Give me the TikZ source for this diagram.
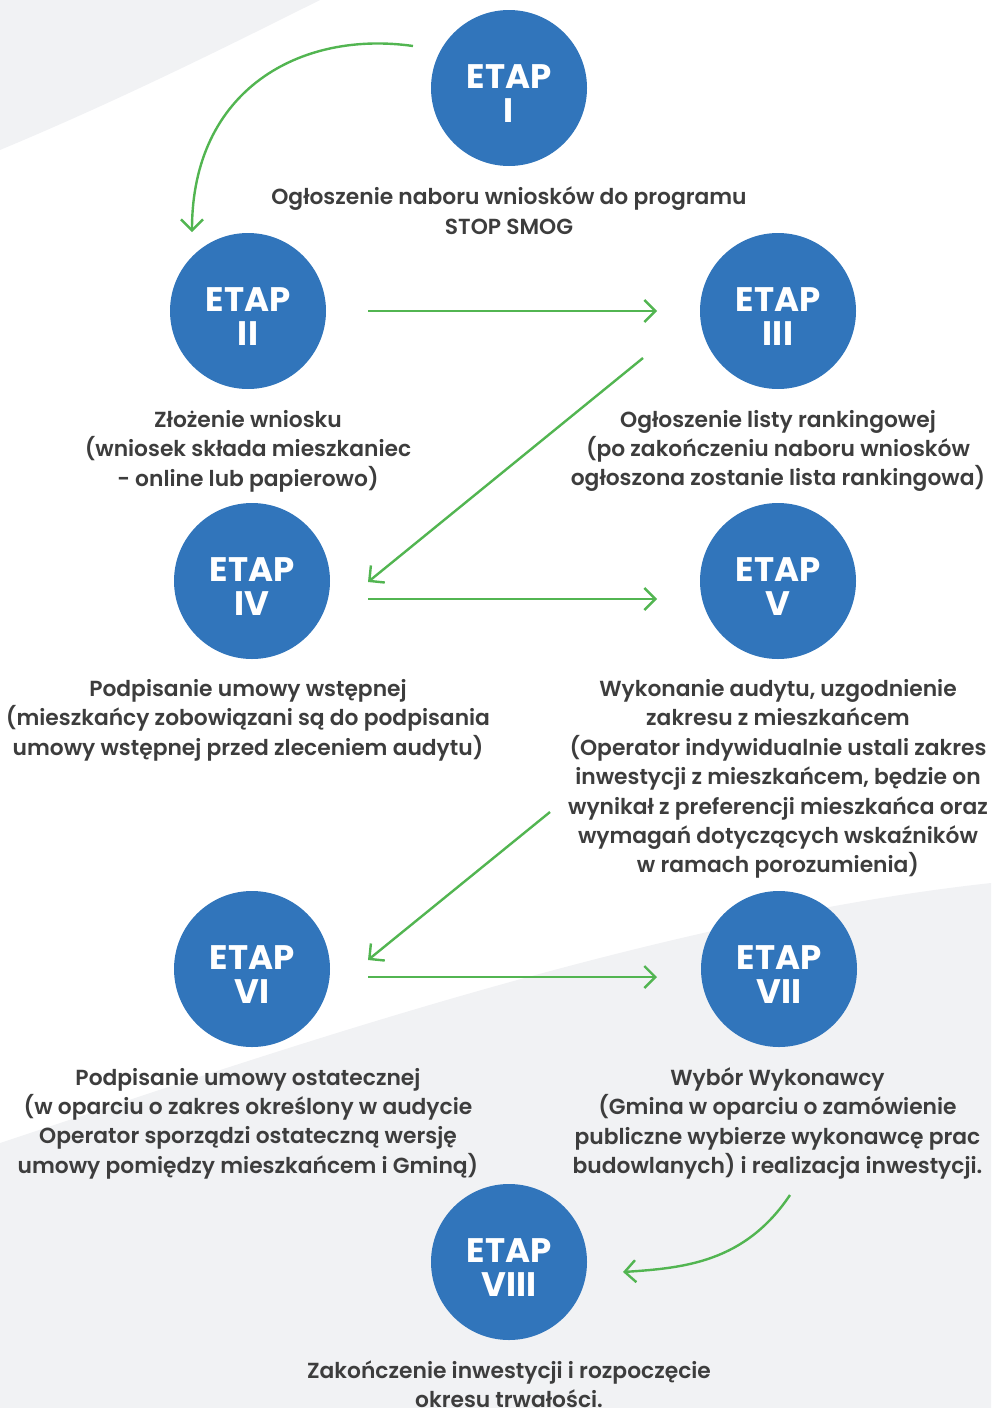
\documentclass[tikz,border=0pt]{standalone}
\usepackage{fontspec}
\usetikzlibrary{arrows.meta}
\newfontfamily\labfont{Poppins SemiBold}
\newfontfamily\etapfont{Poppins Bold}
\definecolor{bggray}{HTML}{F1F2F4}
\definecolor{etapblue}{HTML}{3175BB}
\definecolor{arrgreen}{HTML}{52B551}
\definecolor{txtdark}{HTML}{3D3D3D}
\tikzset{
  stagecircle/.style={circle, fill=etapblue, minimum size=156pt, inner sep=0pt},
  stagetext/.style={text=white, align=center, inner sep=0pt, font=\etapfont\fontsize{34}{34}\selectfont},
  desc/.style={text=txtdark, align=center, inner sep=0pt, font=\labfont\fontsize{21.8}{29.4}\selectfont},
  flow/.style={draw=arrgreen, line width=2.4pt, -{Straight Barb[length=11pt,width=22pt]}},
}
\begin{document}
\begin{tikzpicture}[x=1pt,y=-1pt]
\useasboundingbox (0,0) rectangle (991,1408);
% background shapes
\fill[bggray] (0,0) -- (320,0) .. controls (230,45) and (120,100) .. (0,150) -- cycle;
\fill[bggray] (0,1143) .. controls (250,1060) and (650,920) .. (991,883) -- (991,1408) -- (0,1408) -- cycle;

% stages
\node[stagecircle] (c1) at (509,88) {};
\node[stagecircle] (c2) at (248,311) {};
\node[stagecircle] (c3) at (778,311) {};
\node[stagecircle] (c4) at (252,581) {};
\node[stagecircle] (c5) at (778,581) {};
\node[stagecircle] (c6) at (252,969) {};
\node[stagecircle] (c7) at (779,969) {};
\node[stagecircle] (c8) at (509,1262) {};

\node[stagetext] (t1) at ([yshift=-6pt]c1.center) {ETAP\\I};
\node[stagetext] (t2) at ([yshift=-6pt]c2.center) {ETAP\\II};
\node[stagetext] (t3) at ([yshift=-6pt]c3.center) {ETAP\\III};
\node[stagetext] (t4) at ([yshift=-6pt]c4.center) {ETAP\\IV};
\node[stagetext] (t5) at ([yshift=-6pt]c5.center) {ETAP\\V};
\node[stagetext] (t6) at ([yshift=-6pt]c6.center) {ETAP\\VI};
\node[stagetext] (t7) at ([yshift=-6pt]c7.center) {ETAP\\VII};
\node[stagetext] (t8) at ([yshift=-6pt]c8.center) {ETAP\\VIII};

% descriptions
\node[desc] (d1) at (509,210.5) {Ogłoszenie naboru wniosków do programu\\STOP SMOG};
\node[desc] (d2) at (248,451) {Złożenie wniosku\\(wniosek składa mieszkaniec\\- online lub papierowo)};
\node[desc] (d3) at (778,451) {Ogłoszenie listy rankingowej\\(po zakończeniu naboru wniosków\\ogłoszona zostanie lista rankingowa)};
\node[desc] (d4) at (248,720) {Podpisanie umowy wstępnej\\(mieszkańcy zobowiązani są do podpisania\\umowy wstępnej przed zleceniem audytu)};
\node[desc] (d5) at (778,779) {Wykonanie audytu, uzgodnienie\\zakresu z mieszkańcem\\(Operator indywidualnie ustali zakres\\inwestycji z mieszkańcem, będzie on\\wynikał z preferencji mieszkańca oraz\\wymagań dotyczących wskaźników\\w ramach porozumienia)};
\node[desc] (d6) at (248,1123.5) {Podpisanie umowy ostatecznej\\(w oparciu o zakres określony w audycie\\Operator sporządzi ostateczną wersję\\umowy pomiędzy mieszkańcem i Gminą)};
\node[desc] (d7) at (777.5,1123.5) {Wybór Wykonawcy\\(Gmina w oparciu o zamówienie\\publiczne wybierze wykonawcę prac\\budowlanych) i realizacja inwestycji.};
\node[desc] (d8) at (509,1384) {Zakończenie inwestycji i rozpoczęcie\\okresu trwałości.};

% arrow end points
\coordinate (a1s) at (413,46);   \coordinate (a1e) at (192,232);
\coordinate (a2s) at (368,311);  \coordinate (a2e) at (657,311);
\coordinate (a3s) at (643,358);  \coordinate (a3e) at (368,582);
\coordinate (a4s) at (368,599);  \coordinate (a4e) at (657,599);
\coordinate (a5s) at (550,812);  \coordinate (a5e) at (368,960);
\coordinate (a6s) at (368,977);  \coordinate (a6e) at (657,977);
\coordinate (a7s) at (790,1195); \coordinate (a7e) at (623,1272);

\draw[flow] (a1s) .. controls (300,30) and (192,90) .. (a1e);
\draw[flow] (a2s) -- (a2e);
\draw[flow] (a3s) -- (a3e);
\draw[flow] (a4s) -- (a4e);
\draw[flow] (a5s) -- (a5e);
\draw[flow] (a6s) -- (a6e);
\draw[flow] (a7s) .. controls (745,1262) and (685,1268) .. (a7e);
\end{tikzpicture}
\end{document}
